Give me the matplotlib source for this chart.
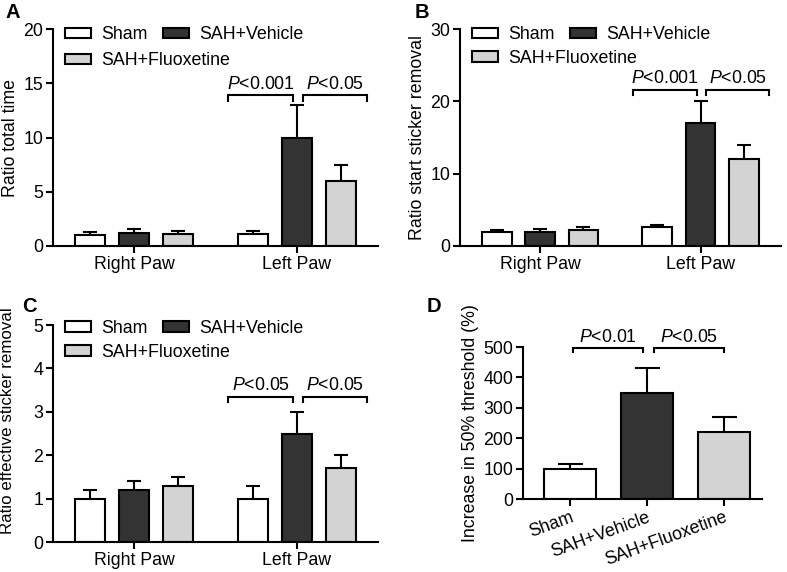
import matplotlib
matplotlib.use("Agg")
import matplotlib.pyplot as plt
from matplotlib.patches import Patch
import numpy as np

plt.rcParams['font.family'] = ['Liberation Sans', 'DejaVu Sans']
plt.rcParams['mathtext.fontset'] = 'custom'
plt.rcParams['mathtext.it'] = 'Liberation Sans:italic'
plt.rcParams['mathtext.rm'] = 'Liberation Sans'

groups = ["Sham", "SAH+Vehicle", "SAH+Fluoxetine"]
paws = ["Right Paw", "Left Paw"]
colors = ["#ffffff", "#333333", "#d3d3d3"]

# Panel A: ratio total time (rows = group, cols = paw)
a_mean = [[1.0, 1.1], [1.2, 10.0], [1.1, 6.0]]
a_err = [[0.3, 0.25], [0.35, 3.0], [0.25, 1.5]]
a_p = ["<0.001", "<0.05"]

# Panel B: ratio start sticker removal
b_mean = [[1.9, 2.6], [2.0, 17.0], [2.2, 12.0]]
b_err = [[0.25, 0.3], [0.3, 3.0], [0.4, 2.0]]
b_p = ["<0.001", "<0.05"]

# Panel C: ratio effective sticker removal
c_mean = [[1.0, 1.0], [1.2, 2.5], [1.3, 1.7]]
c_err = [[0.2, 0.3], [0.2, 0.5], [0.2, 0.3]]
c_p = ["<0.05", "<0.05"]

# Panel D: increase in 50% threshold
d_mean = [100, 350, 220]
d_err = [15, 80, 50]
d_p = ["<0.01", "<0.05"]

W, H = 787, 572
fig = plt.figure(figsize=(W / 100, H / 100), dpi=100)

FS = 12.8
LW = 1.5


def style(ax):
    for s in ["top", "right"]:
        ax.spines[s].set_visible(False)
    for s in ["left", "bottom"]:
        ax.spines[s].set_linewidth(LW)
    ax.tick_params(width=LW, length=5, labelsize=FS, direction="out", pad=2)


def ptext(s):
    return r"$\it{P}$" + s


def paw_panel(rect, mean, err, ymax, yticks, ylabel, pvals, bh, drop, lpos, lfs=FS):
    ax = fig.add_axes(rect)
    style(ax)
    x = np.arange(len(paws))
    off = 0.27
    bw = 0.185
    for i, g in enumerate(groups):
        xi = x + (i - 1) * off
        ax.errorbar(xi, mean[i], yerr=err[i], fmt="none", ecolor="black",
                    elinewidth=LW, capsize=5, capthick=LW, zorder=1)
        ax.bar(xi, mean[i], bw, color=colors[i], edgecolor="black",
               linewidth=LW, zorder=2)
    ax.set_xlim(-0.5, 1.5)
    ax.set_ylim(0, ymax)
    ax.set_yticks(yticks)
    ax.set_xticks(x)
    ax.set_xticklabels(paws, fontsize=FS)
    ax.set_ylabel(ylabel, fontsize=lfs, labelpad=3)
    c = x[1]
    spans = [(c - 0.42, c - 0.025), (c + 0.037, c + 0.43)]
    for (x0, x1), p in zip(spans, pvals):
        ax.plot([x0, x0, x1, x1], [bh - drop, bh, bh, bh - drop], color="black",
                lw=LW, clip_on=False, solid_joinstyle="miter")
        ax.text((x0 + x1) / 2, bh + drop * 0.5, ptext(p), ha="center", va="bottom",
                fontsize=FS)
    handles = [Patch(facecolor=colors[i], edgecolor="black", linewidth=LW) for i in range(3)]
    kw = dict(frameon=False, fontsize=FS, borderpad=0, borderaxespad=0,
              handlelength=1.45, handleheight=0.52, handletextpad=0.6)
    leg1 = ax.legend(handles[:2], groups[:2], ncol=2, loc="center left",
                     bbox_to_anchor=(0.037, lpos[0]), columnspacing=0.85, **kw)
    ax.add_artist(leg1)
    ax.legend(handles[2:], groups[2:], loc="center left",
              bbox_to_anchor=(0.037, lpos[1]), **kw)
    return ax


paw_panel([0.0673, 0.570, 0.413, 0.379], a_mean, a_err, 20, [0, 5, 10, 15, 20],
          "Ratio total time", a_p, 13.9, 0.5, (0.975, 0.855))
paw_panel([0.5845, 0.570, 0.4075, 0.379], b_mean, b_err, 30, [0, 10, 20, 30],
          "Ratio start sticker removal", b_p, 21.6, 0.7, (0.975, 0.865))
axc = paw_panel([0.0673, 0.0524, 0.413, 0.3794], c_mean, c_err, 5, [0, 1, 2, 3, 4, 5],
                "Ratio effective sticker removal", c_p, 3.34, 0.12, (0.985, 0.875),
                lfs=12.2)
axc.yaxis.set_label_coords(-0.118, 0.56)

# Panel D
axd = fig.add_axes([0.6645, 0.1276, 0.3037, 0.2657])
style(axd)
xd = np.arange(len(groups))
axd.errorbar(xd, d_mean, yerr=d_err, fmt="none", ecolor="black", elinewidth=LW,
             capsize=9, capthick=LW, zorder=1)
axd.bar(xd, d_mean, 0.68, color=colors, edgecolor="black", linewidth=LW, zorder=2)
axd.set_xlim(-0.61, 2.49)
axd.set_ylim(0, 500)
axd.set_yticks([0, 100, 200, 300, 400, 500])
axd.set_xticks(xd)
axd.set_xticklabels(groups, rotation=20, ha="right", rotation_mode="anchor", fontsize=FS)
axd.set_ylabel("Increase in 50% threshold (%)", fontsize=FS, labelpad=3)
bh, drop = 497, 14
for (x0, x1), p in zip([(0.04, 0.95), (1.09, 2.0)], d_p):
    axd.plot([x0, x0, x1, x1], [bh - drop, bh, bh, bh - drop], color="black",
             lw=LW, clip_on=False, solid_joinstyle="miter")
    axd.text((x0 + x1) / 2, bh + 6, ptext(p), ha="center", va="bottom", fontsize=FS)

for letter, (px, py) in zip("ABCD", [(5, 18), (415, 18), (22, 312), (427, 312)]):
    fig.text(px / W, 1 - py / H, letter, fontsize=14.5, fontweight="bold",
             ha="left", va="baseline")

fig.savefig("out.png", dpi=100)
